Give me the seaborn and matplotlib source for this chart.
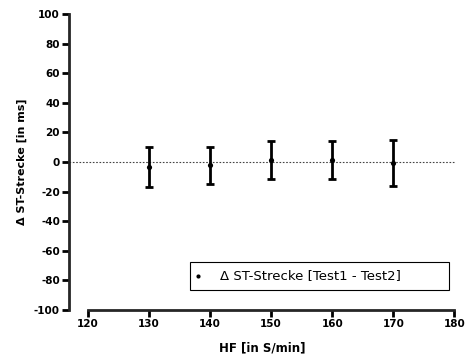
import numpy as np
import matplotlib
matplotlib.use("Agg")
import matplotlib.pyplot as plt
from matplotlib.patches import Rectangle
import seaborn as sns

# Werte
hf = [130, 140, 150, 160, 170]
delta_st = [-3.3, -2.3, 1.4, 1.2, -0.6]
sd = [13.3, 12.6, 13.0, 13.0, 15.5]

sns.set_style("ticks")
plt.rcParams['font.family'] = ['DejaVu Sans']
plt.rcParams['axes.unicode_minus'] = False
plt.rcParams['text.color'] = 'black'
plt.rcParams['axes.labelcolor'] = 'black'

fig = plt.figure(figsize=(4.66, 3.62), dpi=100)
ax = fig.add_axes([0.148, 0.144, 0.831, 0.817])

ax.axhline(0, color='#444444', lw=0.8, ls=(0, (1.5, 1.5)), zorder=1)

ax.errorbar(hf, delta_st, yerr=sd, fmt='none', ecolor='black',
            elinewidth=2, capsize=3, capthick=2, zorder=3)
sns.scatterplot(x=hf, y=delta_st, ax=ax, color='black', s=14,
                edgecolor='black', linewidth=0, zorder=4,
                label='\u0394 ST-Strecke [Test1 - Test2]')

ax.set_xlim(116.9, 180.3)
ax.set_ylim(-100, 100)
ax.set_xticks(np.arange(120, 181, 10))
ax.set_yticks(np.arange(-100, 101, 20))

for side in ['top', 'right']:
    ax.spines[side].set_visible(False)
ax.spines['left'].set_linewidth(2)
ax.spines['bottom'].set_linewidth(2)
ax.spines['bottom'].set_bounds(120, 180)
ax.tick_params(axis='both', width=2, length=5, direction='out',
               labelsize=7.5, colors='black', pad=1.5)
for lab in ax.get_xticklabels() + ax.get_yticklabels():
    lab.set_fontweight('bold')

ax.set_xlabel('HF [in S/min]', fontsize=8.5, fontweight='bold', labelpad=9)
ax.set_ylabel('\u0394 ST-Strecke [in ms]', fontsize=8, fontweight='bold', labelpad=5)

# Legendenrahmen wie im Original (breit, Text links)
ax.add_patch(Rectangle((0.3127, 0.0676), 0.982 - 0.3127, 0.162 - 0.0676,
                       transform=ax.transAxes, fill=True, facecolor='white',
                       edgecolor='black', linewidth=0.8, zorder=5))
leg = ax.legend(loc='center left', bbox_to_anchor=(0.3127, 0.115),
                frameon=False, fontsize=9.5,
                handlelength=1.25, handletextpad=1.05, borderpad=0,
                borderaxespad=0, markerscale=0.8)
leg.set_zorder(6)

fig.savefig('out.png', dpi=100)
